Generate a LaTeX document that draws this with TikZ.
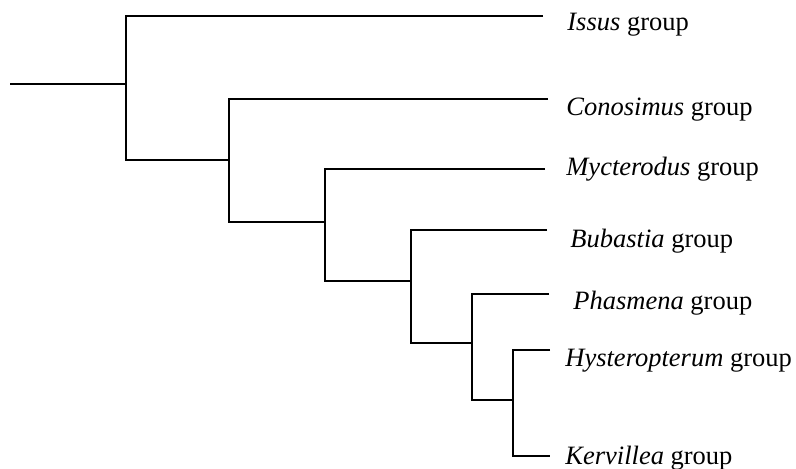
\documentclass[tikz,border=0pt]{standalone}
\usepackage{fontspec}
\setmainfont{Liberation Serif}
\begin{document}
\begin{tikzpicture}[x=0.5pt,y=-0.5pt,
  branch/.style={line width=1.4pt, line join=miter},
  lab/.style={anchor=base west, inner sep=0pt, font=\fontsize{13.25pt}{15pt}\selectfont}]
\useasboundingbox (0,0) rectangle (796,469);
% internal nodes
\coordinate (root) at (10,84);
\coordinate (nA) at (126,84);
\coordinate (nB) at (229,160);
\coordinate (nC) at (325,222);
\coordinate (nD) at (411,281);
\coordinate (nE) at (472,343);
\coordinate (nF) at (513,400);
% tips
\coordinate (tIssus) at (543,16);
\coordinate (tCono) at (548,99);
\coordinate (tMyc) at (545,169);
\coordinate (tBub) at (547,230);
\coordinate (tPha) at (549,294);
\coordinate (tHys) at (550,350);
\coordinate (tKer) at (550,456);
% labels
\node[lab] (Issus) at (567,31) {\textit{Issus} group};
\node[lab] (Cono) at (566,116) {\textit{Conosimus} group};
\node[lab] (Myc) at (566,176) {\textit{Mycterodus} group};
\node[lab] (Bub) at (570,248) {\textit{Bubastia} group};
\node[lab] (Pha) at (573,310) {\textit{Phasmena} group};
\node[lab] (Hys) at (565,366) {\textit{Hysteropterum} group};
\node[lab] (Ker) at (565,464) {\textit{Kervillea} group};
% branches
\draw[branch] (root) -- (nA);
\draw[branch] (tIssus) -| (nA) |- (nB);
\draw[branch] (tCono) -| (nB) |- (nC);
\draw[branch] (tMyc) -| (nC) |- (nD);
\draw[branch] (tBub) -| (nD) |- (nE);
\draw[branch] (tPha) -| (nE) |- (nF);
\draw[branch] (tHys) -| (nF) |- (tKer);
\end{tikzpicture}
\end{document}
